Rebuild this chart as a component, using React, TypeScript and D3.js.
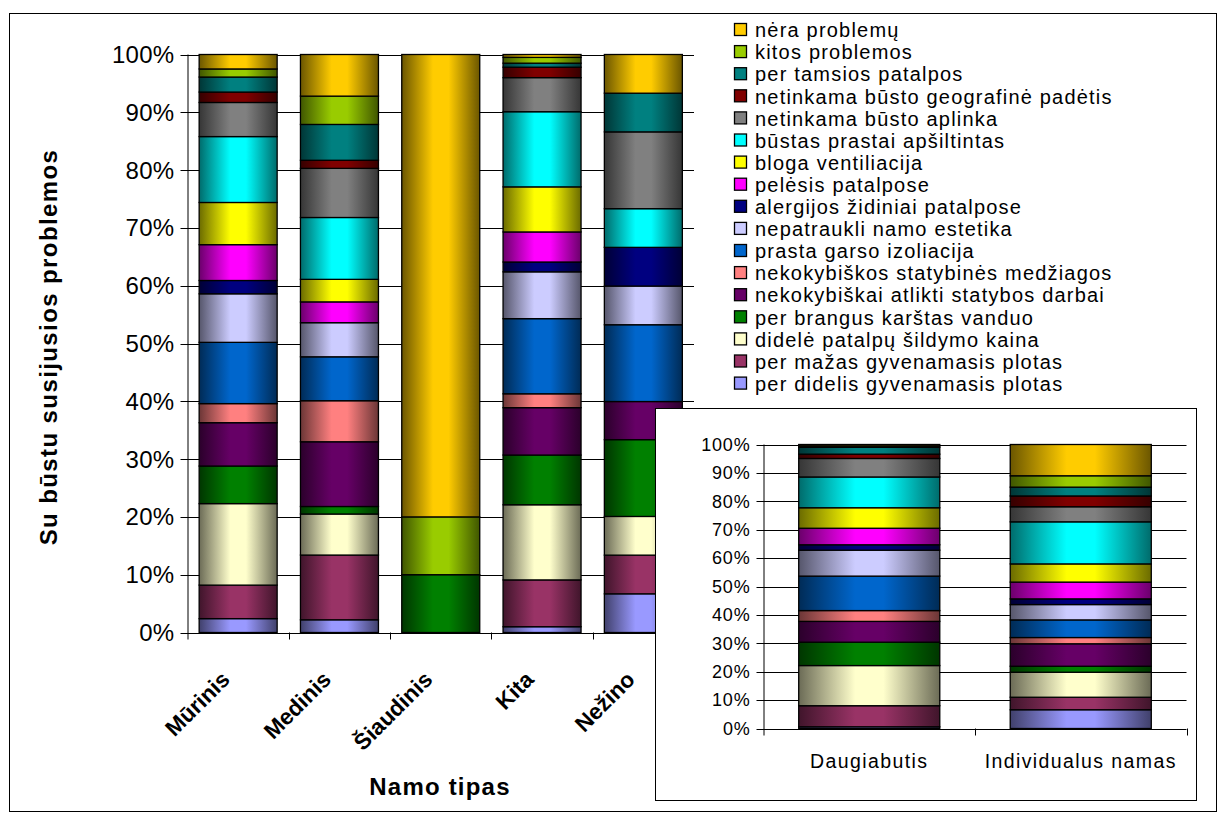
import React from "react";
import * as d3 from "d3";

// Problem categories, listed from the bottom of each stack to the top
const seriesNames = [
  "per didelis gyvenamasis plotas",
  "per mažas gyvenamasis plotas",
  "didelė patalpų šildymo kaina",
  "per brangus karštas vanduo",
  "nekokybiškai atlikti statybos darbai",
  "nekokybiškos statybinės medžiagos",
  "prasta garso izoliacija",
  "nepatraukli namo estetika",
  "alergijos židiniai patalpose",
  "pelėsis patalpose",
  "bloga ventiliacija",
  "būstas prastai apšiltintas",
  "netinkama būsto aplinka",
  "netinkama būsto geografinė padėtis",
  "per tamsios patalpos",
  "kitos problemos",
  "nėra problemų",
];

const seriesColors = [
  "#9999FF", "#993366", "#FFFFCC", "#008000", "#660066", "#FF8080",
  "#0066CC", "#CCCCFF", "#000080", "#FF00FF", "#FFFF00", "#00FFFF",
  "#808080", "#800000", "#008080", "#99CC00", "#FFCC00",
];

// Main chart: house types
const houseTypes = ["Mūrinis", "Medinis", "Šiaudinis", "Kita", "Nežino"];
const murinis = [2.4, 5.8, 14.1, 6.5, 7.5, 3.3, 10.6, 8.4, 2.3, 6.2, 7.3, 11.4, 5.9, 1.8, 2.6, 1.4, 2.5];
const medinis = [2.2, 11.2, 7.1, 1.3, 11.2, 7.1, 7.6, 5.9, 0, 3.6, 3.9, 10.7, 8.5, 1.4, 6.2, 4.9, 7.2];
const siaudinis = [0, 0, 0, 10, 0, 0, 0, 0, 0, 0, 0, 0, 0, 0, 0, 10, 80];
const kita = [1.0, 8.1, 13.0, 8.6, 8.2, 2.4, 13.0, 8.1, 1.7, 5.2, 7.8, 13.0, 5.9, 1.8, 0.7, 1.0, 0.5];
const nezino = [6.7, 6.7, 6.7, 13.3, 6.6, 0, 13.3, 6.7, 6.7, 0, 0, 6.7, 13.3, 0, 6.7, 0, 6.7];
const mainValues = [murinis, medinis, siaudinis, kita, nezino];

// Inset chart: building kinds
const buildingKinds = ["Daugiabutis", "Individualus namas"];
const daugiabutis = [0.6, 7.4, 14.1, 8.2, 7.3, 3.8, 12.1, 9.1, 1.9, 5.8, 7.2, 10.8, 6.5, 1.5, 2.4, 0.5, 0.5];
const individualus = [6.6, 4.4, 8.8, 2.1, 7.9, 2.2, 6.2, 5.4, 2.0, 5.9, 6.4, 14.8, 5.3, 3.8, 3.1, 4.0, 11.0];
const insetValues = [daugiabutis, individualus];

const percentTicks = [0, 0.1, 0.2, 0.3, 0.4, 0.5, 0.6, 0.7, 0.8, 0.9, 1];

const FONT = "Arial, 'Liberation Sans', sans-serif";

function buildStack(cats: string[], values: number[][]) {
  const keys = seriesNames.map((_, i) => String(i));
  const rows = cats.map((c, ci) => {
    const r: any = { cat: c };
    keys.forEach((k, i) => (r[k] = values[ci][i]));
    return r;
  });
  return d3.stack().keys(keys).offset(d3.stackOffsetExpand)(rows);
}

function shade(c: string, f: number) {
  const r = d3.rgb(c);
  return d3.rgb(r.r * f, r.g * f, r.b * f).formatHex();
}

type Box = { x0: number; x1: number; y0: number; y1: number };

function StackedPanel({
  cats, values, box, padding, tickSize, tickSpacing, fontSize, labelRotate, labelY, labelDx,
}: {
  cats: string[]; values: number[][]; box: Box; padding: number;
  tickSize: number; tickSpacing: number; fontSize: number; labelRotate: boolean; labelY: number; labelDx: number;
}) {
  const x = d3.scaleBand().domain(cats).range([box.x0, box.x1]).paddingInner(padding).paddingOuter(padding / 2);
  const y = d3.scaleLinear().domain([0, 1]).range([box.y1, box.y0]);
  const stacked = buildStack(cats, values);
  const step = x.step();
  const fmt = d3.format(".0%");
  return (
    <g>
      {percentTicks.map((t) => (
        <g key={t}>
          <line x1={box.x0 - 7} x2={box.x1} y1={Math.round(y(t)) + 0.5} y2={Math.round(y(t)) + 0.5} stroke="#000" strokeWidth={1} />
          <text x={box.x0 - 13} y={y(t)} dy="0.35em" textAnchor="end" fontSize={tickSize} fontFamily={FONT} letterSpacing={tickSpacing}>
            {fmt(t)}
          </text>
        </g>
      ))}
      <line x1={box.x0 + 0.5} x2={box.x0 + 0.5} y1={box.y0} y2={box.y1 + 7} stroke="#000" />
      {cats.map((c, i) => (
        <line key={c} x1={Math.round(box.x0 + step * (i + 1)) + 0.5} x2={Math.round(box.x0 + step * (i + 1)) + 0.5} y1={box.y1} y2={box.y1 + 7} stroke="#000" />
      ))}
      {stacked.map((s, si) =>
        s.map((d, ci) => {
          if (d[1] - d[0] <= 0) return null;
          const cx = x(cats[ci]) as number;
          return (
            <rect
              key={si + "-" + ci}
              x={cx}
              width={x.bandwidth()}
              y={y(d[1])}
              height={y(d[0]) - y(d[1])}
              fill={`url(#grad${si})`}
              stroke="#000"
              strokeWidth={1.3}
            />
          );
        })
      )}
      {cats.map((c) => {
        const cx = (x(c) as number) + x.bandwidth() / 2;
        return labelRotate ? (
          <text key={c} transform={`translate(${cx + labelDx},${labelY}) rotate(-45)`} textAnchor="end" fontSize={fontSize} fontWeight="bold" fontFamily={FONT}>
            {c}
          </text>
        ) : (
          <text key={c} x={cx} y={labelY} textAnchor="middle" fontSize={fontSize} fontFamily={FONT} letterSpacing={1.4}>
            {c}
          </text>
        );
      })}
    </g>
  );
}

export default function App() {
  const W = 1225;
  const H = 820;
  const legendOrder = seriesNames.map((_, i) => i).reverse();
  return (
    <div style={{ position: "absolute", left: 0, top: 0 }}>
      <svg width={W} height={H} style={{ display: "block", background: "#fff" }}>
        <defs>
          {seriesColors.map((c, i) => (
            <linearGradient key={i} id={`grad${i}`} x1="0" x2="1" y1="0" y2="0">
              <stop offset="0" stopColor={shade(c, 0.42)} />
              <stop offset="0.4" stopColor={c} />
              <stop offset="0.6" stopColor={c} />
              <stop offset="1" stopColor={shade(c, 0.42)} />
            </linearGradient>
          ))}
        </defs>
        <rect x={9.5} y={13.5} width={1207} height={798} fill="#fff" stroke="#000" strokeWidth={1} />

        <StackedPanel
          cats={houseTypes}
          values={mainValues}
          box={{ x0: 187.5, x1: 694, y0: 54.5, y1: 632.5 }}
          padding={0.23}
          tickSize={24}
          tickSpacing={0.3}
          fontSize={22.5}
          labelRotate={true}
          labelY={681}
          labelDx={-7}
        />
        <text transform="translate(57,347) rotate(-90)" textAnchor="middle" fontSize={24} fontWeight="bold" fontFamily={FONT} letterSpacing={1.4}>
          Su būstu susijusios problemos
        </text>
        <text x={440} y={795} textAnchor="middle" fontSize={24} fontWeight="bold" fontFamily={FONT} letterSpacing={1.2}>
          Namo tipas
        </text>

        {/* Legend */}
        <g>
          {legendOrder.map((si, row) => {
            const cy = 30 + row * 22.1;
            return (
              <g key={si}>
                <rect x={734.5} y={cy - 6.5} width={12} height={12} fill={seriesColors[si]} stroke="#000" strokeWidth={1.3} />
                <text x={755} y={cy} dy="0.36em" fontSize={20} fontFamily={FONT} letterSpacing={1.2}>
                  {seriesNames[si]}
                </text>
              </g>
            );
          })}
        </g>

        {/* Inset chart */}
        <rect x={655.5} y={408.5} width={541} height={392} fill="#fff" stroke="#000" strokeWidth={1} />
        <StackedPanel
          cats={buildingKinds}
          values={insetValues}
          box={{ x0: 763.5, x1: 1186.5, y0: 444.5, y1: 728.5 }}
          padding={0.333}
          tickSize={18}
          tickSpacing={0.8}
          fontSize={19.5}
          labelRotate={false}
          labelY={768}
          labelDx={0}
        />
      </svg>
    </div>
  );
}
